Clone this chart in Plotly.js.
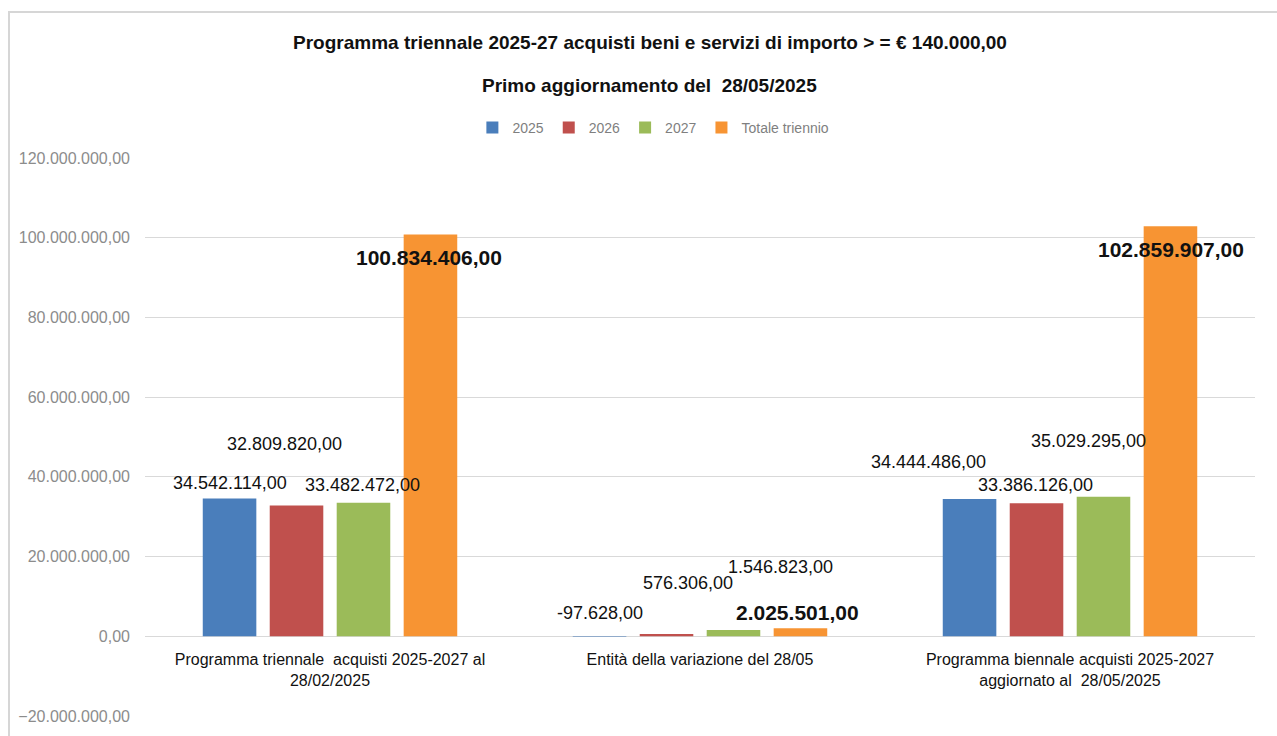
<!DOCTYPE html>
<html>
<head>
<meta charset="utf-8">
<script src="https://cdn.plot.ly/plotly-3.0.1.min.js"></script>
<style>
html,body{margin:0;padding:0;background:#fff;}
#wrap{position:relative;width:1277px;height:736px;overflow:hidden;}
#frame{position:absolute;left:8px;top:11px;width:1300px;height:800px;border:2px solid #d6d6d6;box-sizing:border-box;pointer-events:none;}
#chart{position:absolute;left:0;top:0;width:1277px;height:736px;}
</style>
</head>
<body>
<div id="wrap"><div id="chart"></div><div id="frame"></div></div>
<script>
// ---- data ----
const categories = [
  "Programma triennale  acquisti 2025-2027 al<br>28/02/2025",
  "Entità della variazione del 28/05",
  "Programma biennale acquisti 2025-2027<br>aggiornato al  28/05/2025"
];
const seriesNames = ["2025", "2026", "2027", "Totale triennio"];
const v2025 = [34542114, -97628, 34444486];
const v2026 = [32809820, 576306, 33386126];
const v2027 = [33482472, 1546823, 35029295];
const vTotale = [100834406, 2025501, 102859907];
const yTickVals = [-20000000, 0, 20000000, 40000000, 60000000, 80000000, 100000000, 120000000];

// ---- styling ----
const colors = ["#4a7ebb", "#c0504d", "#9bbb59", "#f79433"];
const allSeries = [v2025, v2026, v2027, vTotale];
// label nudges in pixels [dx, dy] per series per category (placement only)
const labelNudge = [
  [[0, 16], [0, 24], [-41, 37]],
  [[-12, 62], [21, 51], [-1, 18]],
  [[-1, 18], [47, 63], [-15, 56]],
  [[-2, -23], [-3, 16], [0, -23]]
];
const barPitch = 67;
const FONT = "Liberation Sans, Arial, sans-serif";

function fmtIt(v) {
  const neg = v < 0;
  const s = Math.abs(v).toFixed(2).split(".");
  const intPart = s[0].replace(/\B(?=(\d{3})+(?!\d))/g, ".");
  return (neg ? "-" : "") + intPart + "," + s[1];
}

const traces = allSeries.map((vals, i) => ({
  type: "bar",
  name: seriesNames[i],
  x: categories,
  y: vals,
  marker: {color: colors[i]},
  hoverinfo: "none"
}));

const annotations = [];
allSeries.forEach((vals, i) => {
  vals.forEach((v, j) => {
    const bold = i === 3;
    annotations.push({
      x: categories[j], y: v, xref: "x", yref: "y",
      xshift: (i - 1.5) * barPitch + labelNudge[i][j][0],
      yshift: labelNudge[i][j][1],
      text: bold ? "<b>" + fmtIt(v) + "</b>" : fmtIt(v),
      showarrow: false, xanchor: "center", yanchor: "middle",
      font: {family: FONT, size: bold ? 21 : 18, color: "#111"}
    });
  });
});
annotations.push({
  text: "<b>Primo aggiornamento del  28/05/2025</b>",
  xref: "paper", yref: "paper", x: (649 - 145) / 1110, y: (716 - 86) / 558,
  xanchor: "center", yanchor: "middle", showarrow: false,
  font: {family: FONT, size: 19, color: "#111"}
});

const yMin = -20000000, yMax = 120000000;

const layout = {
  width: 1277, height: 736,
  margin: {l: 145, r: 22, t: 158, b: 20},
  paper_bgcolor: "#fff", plot_bgcolor: "#fff",
  separators: ",.",
  title: {
    text: "<b>Programma triennale 2025-27 acquisti beni e servizi di importo > = € 140.000,00</b>",
    x: 0.509, xref: "container", xanchor: "center",
    y: 1 - 42 / 736, yref: "container", yanchor: "middle",
    font: {family: FONT, size: 19, color: "#111"}
  },
  barmode: "group",
  bargap: 0.276,
  bargroupgap: 0.2,
  showlegend: true,
  legend: {
    orientation: "h", x: 0.458, xanchor: "center", y: 1 + 30 / 558, yanchor: "middle",
    font: {family: FONT, size: 14, color: "#7f7f7f"},
    itemwidth: 30, traceorder: "normal"
  },
  xaxis: {
    type: "category",
    anchor: "free",
    position: (0 - yMin) / (yMax - yMin),
    showgrid: false, zeroline: false, showline: false,
    ticks: "", ticklabelstandoff: 12,
    tickfont: {family: FONT, size: 16, color: "#111"}
  },
  yaxis: {
    range: [yMin, yMax],
    tickvals: yTickVals,
    tickformat: ",.2f",
    showgrid: true, gridcolor: "#d9d9d9", gridwidth: 1,
    zeroline: true, zerolinecolor: "#d9d9d9", zerolinewidth: 1,
    showline: false, ticks: "", ticklabelstandoff: 14,
    tickfont: {family: FONT, size: 16, color: "#8c8c8c"}
  },
  annotations: annotations
};

Plotly.newPlot("chart", traces, layout, {displayModeBar: false, staticPlot: true});
</script>
</body>
</html>
